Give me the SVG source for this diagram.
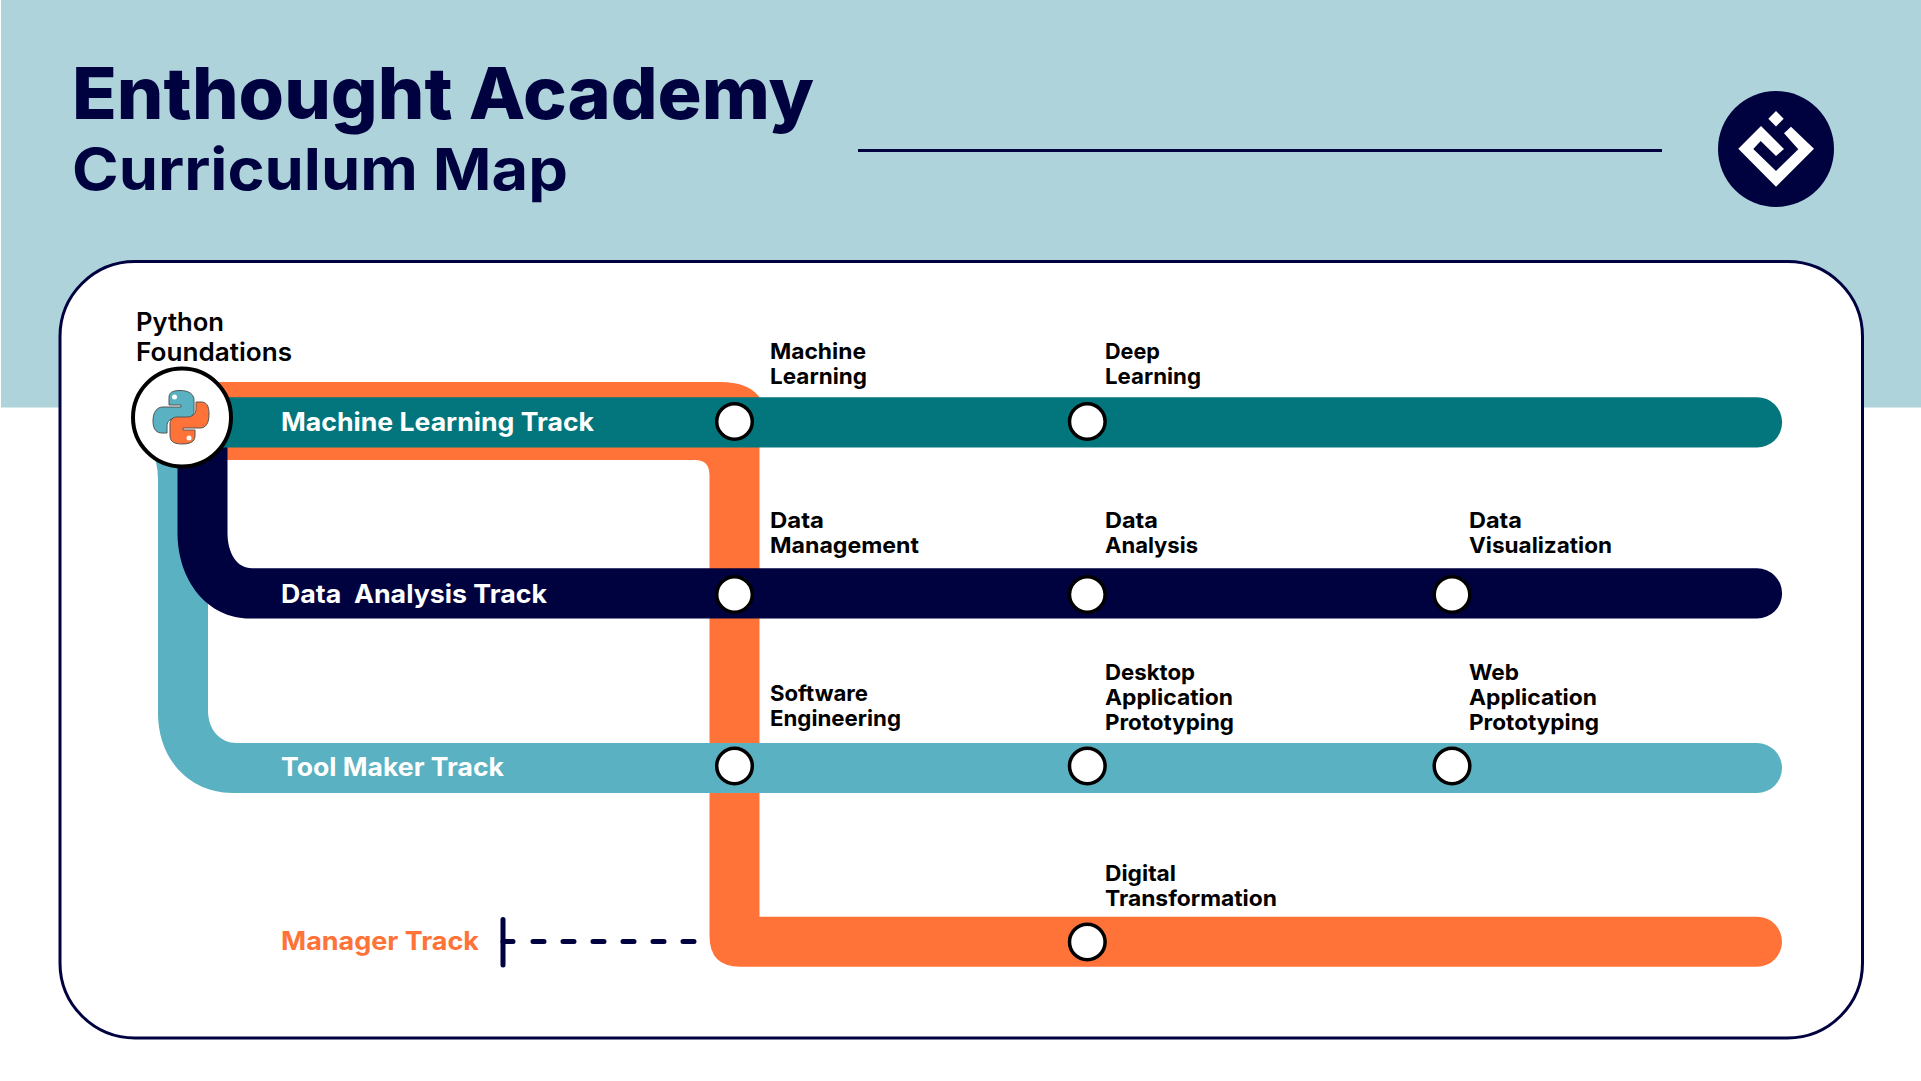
<svg xmlns="http://www.w3.org/2000/svg" width="1921" height="1081" viewBox="0 0 1921 1081">
<style>
text{font-family:Inter,"Liberation Sans",sans-serif}
.st{font-size:22px;font-weight:700;fill:#000}
.tr{font-size:25.5px;font-weight:700;fill:#fff}
.pf{font-size:25px;font-weight:600;fill:#000}
.stop{fill:#fff;stroke:#000;stroke-width:3.500}
</style>
<rect width="1921" height="1081" fill="#fff"/>
<rect x="1" y="0" width="1920" height="407.500" fill="#AED3DB"/>
<text x="72" y="119" font-size="72" font-weight="800" fill="#000240" textLength="742" lengthAdjust="spacingAndGlyphs">Enthought Academy</text>
<text x="72" y="190" font-size="58" font-weight="700" fill="#000240" textLength="496" lengthAdjust="spacingAndGlyphs">Curriculum Map</text>
<path d="M858 150.500H1662" stroke="#000240" stroke-width="3" fill="none"/>
<g id="logo">
<circle cx="1776" cy="149" r="58" fill="#000240"/>
<path d="M1776 111L1768.300 118.700L1776 126.400L1783.700 118.700Z" fill="#fff"/>
<path d="M1761 126L1738.300 148.700L1776 186.700L1814 148.700L1791 126.700L1784 133.300L1798.300 149.300L1776 171L1753.300 149L1760.700 141L1776 156L1784 149Z" fill="#fff"/>
</g>
<rect id="panel" x="60" y="261.500" width="1802.500" height="776.500" rx="75" fill="#fff" stroke="#000240" stroke-width="3"/>
<g id="connectors">
<path id="manager-line" fill="#FF7338" d="M210 382H720Q748 382 759.500 397V916.700H1757A25 25 0 0 1 1757 966.700H740Q709.500 966.700 709.500 936V475Q709.500 460 695 460H210Z"/>
<path id="tool-line" fill="#5AB1C1" d="M150 450Q158 460 158 480V713C158 760 190 793 233 793H1757A25 25 0 0 0 1757 743H237C220 743 208 730 208 710V450Z"/>
<path id="data-line" fill="#000240" d="M177.500 440H227.500V533C227.500 553 237 568.300 252 568.300H1757A25 25 0 0 1 1757 618.500H250C207 618.500 177.500 580 177.500 533Z"/>
<path id="ml-line" fill="#02767C" d="M200 397.200H1757A25 25 0 0 1 1757 447.500H200Z"/>
</g>
<g id="python-foundations">
<circle cx="182" cy="417.500" r="49" fill="#fff" stroke="#000" stroke-width="4"/>
<path d="M180 390.500C168 390.500 169 396 169 400V405H181V407H163C157 407 153 412 153 421C153 430 157 433 162 433H167V426C167 421 171 418 176 418H187C191 418 194 415 194 411V400C194 395 190 390.500 180 390.500Z" fill="#5AB1C1" stroke="#555" stroke-width="1"/>
<path d="M182 444C194 444 195 439 195 435V430H183V428H200C206 428 209 423 209 414C209 405 206 402 201 402H196V409C196 414 192 417 187 417H177C173 417 170 420 170 424V435C170 440 172 444 182 444Z" fill="#FF7338" stroke="#555" stroke-width="1"/>
<circle cx="174.500" cy="397" r="2.500" fill="#fff"/>
<circle cx="189" cy="438" r="2.500" fill="#fff"/>
<text class="pf" x="136" y="331" textLength="88" lengthAdjust="spacingAndGlyphs">Python</text>
<text class="pf" x="136" y="361" textLength="156" lengthAdjust="spacingAndGlyphs">Foundations</text>
</g>
<g id="tracks">
<text class="tr" x="281" y="431" textLength="313" lengthAdjust="spacingAndGlyphs">Machine Learning Track</text>
<text class="tr" x="281" y="602.500" textLength="266" lengthAdjust="spacingAndGlyphs" xml:space="preserve">Data  Analysis Track</text>
<text class="tr" x="281" y="776" textLength="223" lengthAdjust="spacingAndGlyphs">Tool Maker Track</text>
<text class="tr" x="281" y="949.500" textLength="198" lengthAdjust="spacingAndGlyphs" style="fill:#FF7338">Manager Track</text>
</g>
<g id="manager-tick" stroke="#000240" stroke-width="5" stroke-linecap="round" fill="none">
<path d="M503 919.500V965"/>
<path d="M503 941.500H513M533 941.500H544M563 941.500H574M593 941.500H604M623 941.500H634M653 941.500H664M683 941.500H694"/>
</g>
<g id="stop-ml"><circle class="stop" cx="734.500" cy="421.500" r="17.800"/><text class="st" x="770" y="359" textLength="96" lengthAdjust="spacingAndGlyphs">Machine</text><text class="st" x="770" y="384" textLength="97" lengthAdjust="spacingAndGlyphs">Learning</text></g>
<g id="stop-dl"><circle class="stop" cx="1087.300" cy="421.500" r="17.800"/><text class="st" x="1105" y="359" textLength="55" lengthAdjust="spacingAndGlyphs">Deep</text><text class="st" x="1105" y="384" textLength="96" lengthAdjust="spacingAndGlyphs">Learning</text></g>
<g id="stop-dm"><circle class="stop" cx="734.500" cy="594.500" r="17.800"/><text class="st" x="770" y="528" textLength="54" lengthAdjust="spacingAndGlyphs">Data</text><text class="st" x="770" y="553" textLength="149" lengthAdjust="spacingAndGlyphs">Management</text></g>
<g id="stop-da"><circle class="stop" cx="1087.300" cy="594.500" r="17.800"/><text class="st" x="1105" y="528" textLength="53" lengthAdjust="spacingAndGlyphs">Data</text><text class="st" x="1105" y="553" textLength="93" lengthAdjust="spacingAndGlyphs">Analysis</text></g>
<g id="stop-dv"><circle class="stop" cx="1452" cy="594.500" r="17.800"/><text class="st" x="1469" y="527.500" textLength="53" lengthAdjust="spacingAndGlyphs">Data</text><text class="st" x="1469" y="552.500" textLength="143" lengthAdjust="spacingAndGlyphs">Visualization</text></g>
<g id="stop-se"><circle class="stop" cx="734.500" cy="766" r="17.800"/><text class="st" x="770" y="701" textLength="98" lengthAdjust="spacingAndGlyphs">Software</text><text class="st" x="770" y="726" textLength="131" lengthAdjust="spacingAndGlyphs">Engineering</text></g>
<g id="stop-dap"><circle class="stop" cx="1087.300" cy="766" r="17.800"/><text class="st" x="1105" y="680" textLength="90" lengthAdjust="spacingAndGlyphs">Desktop</text><text class="st" x="1105" y="705" textLength="128" lengthAdjust="spacingAndGlyphs">Application</text><text class="st" x="1105" y="730" textLength="129" lengthAdjust="spacingAndGlyphs">Prototyping</text></g>
<g id="stop-wap"><circle class="stop" cx="1452" cy="766" r="17.800"/><text class="st" x="1469" y="680" textLength="50" lengthAdjust="spacingAndGlyphs">Web</text><text class="st" x="1469" y="705" textLength="128" lengthAdjust="spacingAndGlyphs">Application</text><text class="st" x="1469" y="730" textLength="130" lengthAdjust="spacingAndGlyphs">Prototyping</text></g>
<g id="stop-dt"><circle class="stop" cx="1087.300" cy="942" r="17.800"/><text class="st" x="1105" y="881" textLength="71" lengthAdjust="spacingAndGlyphs">Digital</text><text class="st" x="1105" y="906" textLength="172" lengthAdjust="spacingAndGlyphs">Transformation</text></g>
</svg>
